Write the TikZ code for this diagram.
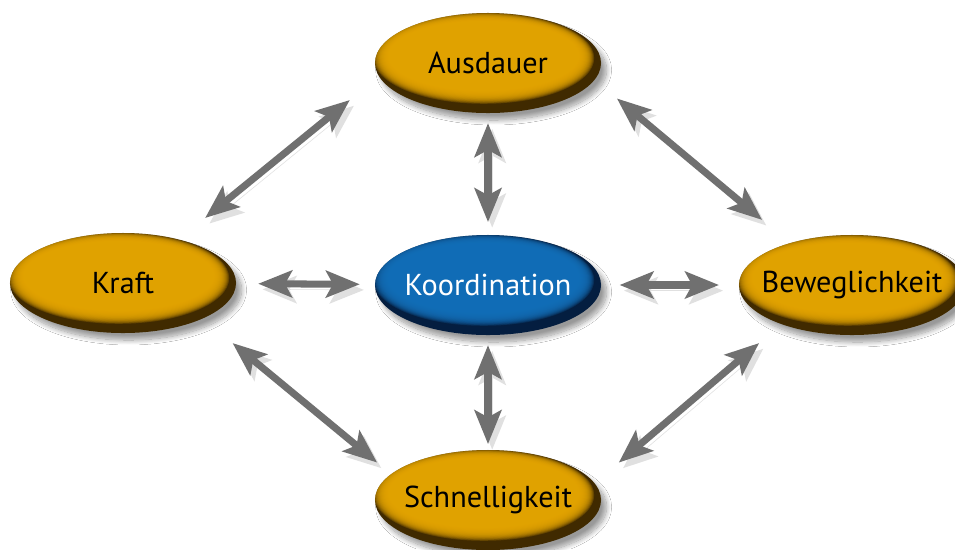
\documentclass[tikz,border=0pt]{standalone}
\usepackage{fontspec}
\setmainfont{PT Sans}
\usetikzlibrary{arrows.meta,shapes.geometric,shadows.blur}
\definecolor{gold}{RGB}{230,166,0}
\definecolor{golddark}{RGB}{64,42,0}
\definecolor{sea}{RGB}{20,112,186}
\definecolor{seadark}{RGB}{4,30,64}
\definecolor{arrowgray}{RGB}{112,112,112}

\begin{document}
\begin{tikzpicture}[x=0.025cm,y=-0.025cm,
  lens/.style={ellipse, minimum width=5.65cm, minimum height=2.5cm, inner xsep=-8pt, inner ysep=0pt,
    font=\fontsize{21.5}{26}\selectfont,
    blur shadow={shadow xshift=4pt, shadow yshift=-5pt, shadow blur radius=3.5pt, shadow blur steps=12, shadow opacity=40}},
  glow/.style={path picture={
    \foreach \k in {0,...,15}
      \fill[#1, opacity=0.22] ([xshift=-3pt, yshift=5pt-0.1pt*\k]path picture bounding box.center)
        ellipse ({68pt+0.7pt*\k} and {25pt+0.5pt*\k});}},
  sport/.style={lens, fill=golddark, glow=gold, text=black},
  core/.style={lens, fill=seadark, glow=sea, text=white},
  link/.style={arrowgray, line width=5pt,
    {Stealth[length=24pt,width=19pt,inset=5pt]}-{Stealth[length=24pt,width=19pt,inset=5pt]},
    preaction={draw=black!12, transform canvas={shift={(3pt,-4pt)}}}}]
\useasboundingbox (0,0) rectangle (955,549);
\fill[white] (0,0) rectangle (955,549);

\node[sport] (ausdauer) at (488,63) {Ausdauer};
\node[core] (koord) at (488,285) {Koordination};
\node[sport] (kraft) at (123,283) {Kraft};
\node[sport] (beweg) at (852,285) {Beweglichkeit};
\node[sport] (schnell) at (488,500) {Schnelligkeit};

\draw[link, shorten <=24pt, shorten >=26.6pt] (kraft.38) -- (ausdauer.187);
\draw[link, shorten <=20.6pt, shorten >=25.6pt] (ausdauer.351) -- (beweg.146);
\draw[link, shorten <=7pt, shorten >=9pt] (ausdauer) -- (koord);
\draw[link, shorten <=15.6pt, shorten >=10.6pt] (kraft) -- (koord);
\draw[link, shorten <=13pt, shorten >=14pt] (koord) -- (beweg);
\draw[link, shorten <=7pt, shorten >=4pt] (koord) -- (schnell);
\draw[link, shorten <=27.3pt, shorten >=12.8pt] (kraft.336) -- (schnell.165);
\draw[link, shorten <=22.5pt, shorten >=20.6pt] (schnell.9) -- (beweg.209);
\end{tikzpicture}
\end{document}
